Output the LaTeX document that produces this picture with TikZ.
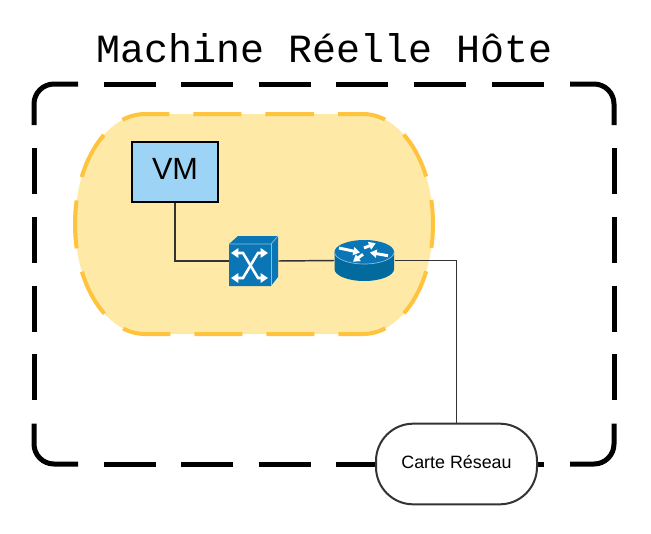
\documentclass[tikz,border=0pt]{standalone}
\usepackage{fontspec}
\setmainfont{Liberation Sans}
\setmonofont{Liberation Mono}
\usepackage{xcolor}
\usetikzlibrary{arrows.meta, positioning, calc}

\definecolor{zonefill}{HTML}{FEE9A6}
\definecolor{zoneline}{HTML}{FFC33D}
\definecolor{vmfill}{HTML}{9DD3F4}
\definecolor{ciscoblue}{HTML}{0A76B6}
\definecolor{ciscodark}{HTML}{036A9E}
\definecolor{ciscoedge}{HTML}{8FBFDC}
\definecolor{wire}{HTML}{333333}

\begin{document}
\begin{tikzpicture}[
    x=0.75pt, y=-0.75pt,
    hostline/.style={draw=black, line width=3.75pt},
    hosttop/.style={hostline, dash pattern=on 39pt off 19.2pt},
    hostside/.style={hostline, dash pattern=on 34.5pt off 17.1pt},
    hostcorner/.style={hostline, rounded corners=15pt},
    zone/.style={draw=zoneline, line width=3pt, dash pattern=on 36pt off 18pt},
    vmbox/.style={rectangle, draw=black, line width=1.9pt, fill=vmfill, minimum width=64.5pt, minimum height=45pt, inner sep=0pt, text depth=5pt, font=\fontsize{23}{26}\selectfont},
    icon/.style={rectangle, inner sep=0pt},
    carte/.style={rectangle, draw=wire, line width=1.5pt, fill=white, rounded corners=28pt, minimum width=120.75pt, minimum height=60.5pt, text depth=3.5pt, font=\fontsize{13.4}{15}\selectfont},
    whitearrow/.style={draw=white, line width=1.9pt, {Triangle[width=7pt,length=5.5pt]}-{Triangle[width=7pt,length=5.5pt]}},
    routerarrow/.style={draw=white, line width=2.2pt, -{Triangle[width=6pt,length=5pt]}},
    thickwire/.style={draw=wire, line width=1.7pt},
    midwire/.style={draw=wire, line width=1.1pt},
    thinwire/.style={draw=wire, line width=0.75pt}
]
    \useasboundingbox (0,0) rectangle (651,533);

    \node[font=\ttfamily\fontsize{30}{34}\selectfont, anchor=base] (title) at (324.5,62) {Machine Réelle Hôte};

    % host machine border
    \draw[hosttop] (103.5,84) -- (544,84);
    \draw[hosttop] (103.5,464) -- (544,464);
    \draw[hostside] (34,148) -- (34,400.5);
    \draw[hostside] (614,148) -- (614,400.5);
    \draw[hostcorner] (78,84) -| (34,125);
    \draw[hostcorner] (570,84) -| (614,125);
    \draw[hostcorner] (78,464) -| (34,423.5);
    \draw[hostcorner] (570,464) -| (614,423.5);

    % virtual zone
    \fill[zonefill] (145,114) -- (363,114)
        arc[start angle=270, end angle=450, x radius=70, y radius=110] -- (145,334)
        arc[start angle=90, end angle=270, x radius=70, y radius=110] -- cycle;
    \draw[zone] (266,114) -- (363,114)
        arc[start angle=270, end angle=450, x radius=70, y radius=110] -- (145,334)
        arc[start angle=90, end angle=270, x radius=70, y radius=110] -- cycle;

    \node[vmbox] (vm) at (175,172) {VM};
    \node[icon, minimum width=36.75pt, minimum height=37.5pt] (switch) at (253.5,261) {};
    \node[icon, minimum width=45pt, minimum height=31pt] (router) at (364.3,260.5) {};
    \node[carte] (card) at (456.5,464) {Carte Réseau};

    \draw[thickwire] (vm.south) |- (switch.west);
    \draw[midwire] (switch.east) -- (router.west);
    \draw[thinwire] (router.east) -| (card.north);

    % switch icon
    \fill[ciscoblue] (229,244) -- (238,236) -- (278,236) -- (278,277) -- (271,286) -- (229,286) -- cycle;
    \draw[ciscoedge, line width=0.5pt] (229,244) -- (271,244) -- (278,236);
    \draw[ciscoedge, line width=0.5pt] (271,244) -- (271,286);
    \draw[whitearrow] (231,253) -- (243,253) -- (258,278) -- (268,278);
    \draw[whitearrow] (268,253) -- (258,253) -- (243,278) -- (231,278);

    % router icon
    \fill[ciscodark] (334.5,252) -- (334.5,269)
        arc[start angle=180, end angle=0, x radius=29.8, y radius=12] -- (394.1,252) -- cycle;
    \fill[ciscoblue] (364.3,252) ellipse[x radius=29.8, y radius=12];
    \draw[ciscoedge, line width=0.5pt] (334.5,252)
        arc[start angle=180, end angle=0, x radius=29.8, y radius=12];
    \foreach \xa/\ya/\xb/\yb in {339/248/360/252.5, 388/255.7/370/252.5, 364/248/375.7/243.3, 363/254.3/353/261.7}
        \draw[routerarrow] (\xa,\ya) -- (\xb,\yb);
\end{tikzpicture}
\end{document}
